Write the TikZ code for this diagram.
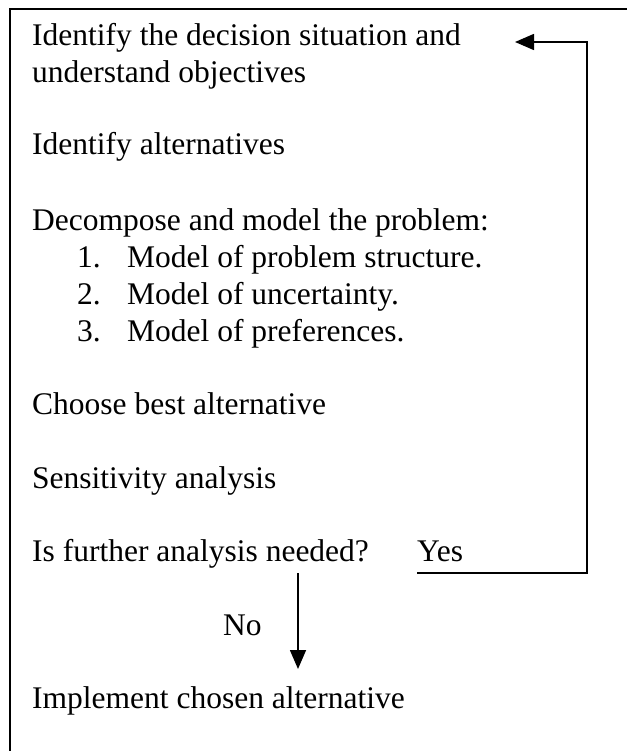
\documentclass[tikz,border=0pt]{standalone}
\usepackage{fontspec}
\setmainfont{Liberation Serif}
\usetikzlibrary{arrows.meta}
\begin{document}
\begin{tikzpicture}[x=1pt,y=-1pt,
  txt/.style={anchor=base west, inner sep=0pt, font=\fontsize{31.5}{36}\selectfont},
  num/.style={anchor=base east, inner sep=0pt, font=\fontsize{31.5}{36}\selectfont},
  frame/.style={line width=2pt},
  flow/.style={line width=1.6pt, -{Triangle[length=19pt,width=16pt]}},
]
\useasboundingbox (0,0) rectangle (626,751);

% open frame: only the left and top edges fall inside the page
\draw[frame] (10,760) -- (10,9.5) -- (640,9.5);

% process steps
\node[txt] (goal)   at (32,46)  {Identify the decision situation and};
\node[txt] (goal2)  at (32,82.5){understand objectives};
\node[txt] (alts)   at (32,155) {Identify alternatives};
\node[txt] (decomp) at (32,230) {Decompose and model the problem:};
\node[num] (n1)     at (101,267) {1.};
\node[txt] (m1)     at (127,267) {Model of problem structure.};
\node[num] (n2)     at (101,304) {2.};
\node[txt] (m2)     at (127,304) {Model of uncertainty.};
\node[num] (n3)     at (101,341) {3.};
\node[txt] (m3)     at (127,341) {Model of preferences.};
\node[txt] (choose) at (32,414) {Choose best alternative};
\node[txt] (sens)   at (32,488) {Sensitivity analysis};
\node[txt] (ask)    at (32,561) {Is further analysis needed?};
\node[txt] (yes)    at (417,561){Yes};
\node[txt] (no)     at (223,635){No};
\node[txt] (impl)   at (32,708) {Implement chosen alternative};

% loop back to the first step
\coordinate (yesA)  at (417,573);
\coordinate (yesB)  at (587,573);
\coordinate (back)  at (515,42);
\draw[flow] (yesA) -- (yesB) |- (back);

% continue to implementation
\coordinate (noA) at (298,573);
\coordinate (noB) at (298,669);
\draw[flow] (noA) -- (noB);
\end{tikzpicture}
\end{document}
